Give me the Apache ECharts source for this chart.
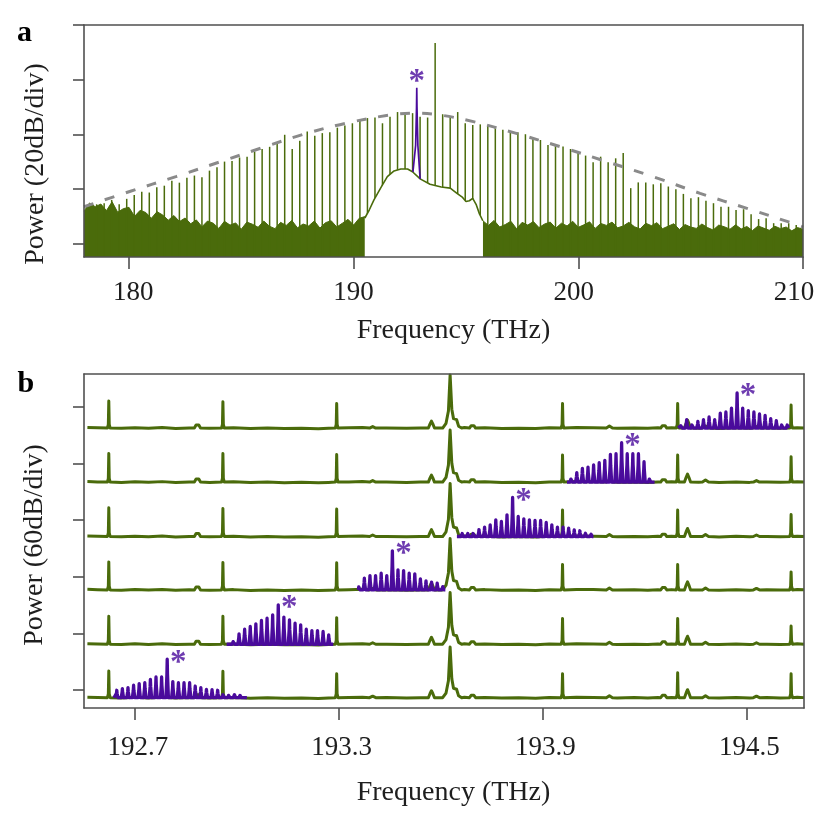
<!DOCTYPE html>
<html><head><meta charset="utf-8">
<script src="https://cdn.jsdelivr.net/npm/echarts@6/dist/echarts.min.js"></script>
<style>html,body{margin:0;padding:0;background:#fff}#c{width:830px;height:830px}</style>
</head><body><div id="c"></div>
<script>
// ---------- Panel a data (frequency THz, power dB) ----------
const aTicks = [180, 190, 200, 210];
const aYTicks = [0, 20, 40, 60, 80];
const aCombFreq = [178.227, 178.562, 178.897, 179.232, 179.566,
  179.901, 180.236, 180.571, 180.906, 181.240, 181.575, 181.910, 182.245, 182.580, 182.914,
  183.249, 183.584, 183.919, 184.254, 184.588, 184.923, 185.258, 185.593, 185.928,
  186.262, 186.597, 186.932, 187.267, 187.602, 187.936, 188.271, 188.606, 188.941, 189.276,
  189.610, 189.945, 190.280, 190.615, 190.950, 191.284, 191.619, 191.954, 192.289, 192.624,
  192.958, 193.293,
  193.628,
  193.963, 194.298, 194.632, 194.967, 195.302, 195.637, 195.972, 196.306, 196.641, 196.976,
  197.311, 197.646, 197.980, 198.315, 198.650, 198.985, 199.320, 199.654, 199.989, 200.324,
  200.659, 200.994, 201.328, 201.663, 201.998,
  202.333, 202.668, 203.002, 203.337, 203.672, 204.007, 204.342, 204.676, 205.011, 205.346,
  205.681, 206.016, 206.350, 206.685, 207.020, 207.355, 207.690, 208.024, 208.359, 208.694,
  209.029, 209.364, 209.698];
const aCombPower = [14.0, 14.5, 14.9, 16.1, 14.5,
  16.5, 17.9, 19.1, 18.8, 20.7, 21.3, 23.1, 22.4, 24.2, 25.0,
  24.4, 26.8, 28.0, 30.1, 30.3, 31.6, 31.9, 33.7, 34.7,
  35.5, 36.8, 39.9, 34.7, 37.7, 41.1, 39.5, 40.5, 40.8, 42.5,
  43.3, 44.1, 45.0, 46.0, 46.2, 44.1, 46.5, 48.2, 47.2, 47.8,
  46.5, 46.2,
  73.4,
  47.4, 46.5, 48.2, 44.1, 43.5, 43.7, 43.5, 42.9, 41.7, 41.1,
  40.8, 40.1, 38.6, 38.0, 36.2, 36.4, 35.6, 34.7, 33.7, 32.3,
  29.9, 31.9, 29.9, 31.3, 33.2,
  20.4, 22.5, 22.5, 21.8, 22.2, 21.0, 20.0, 18.3, 16.7, 17.1,
  15.8, 14.9, 13.6, 13.6, 12.4, 12.7, 10.9, 9.1, 9.4, 7.6,
  7.6, 7.6, 6.9];
const aNoiseLeftFreq = [178.00, 178.25, 178.50, 178.75, 179.00, 179.25, 179.50, 179.75, 180.00, 180.25,
  180.50, 180.75, 181.00, 181.25, 181.50, 181.75, 182.00, 182.25, 182.50, 182.75,
  183.00, 183.25, 183.50, 183.75, 184.00, 184.25, 184.50, 184.75, 185.00, 185.25,
  185.50, 185.75, 186.00, 186.25, 186.50, 186.75, 187.00, 187.25, 187.50, 187.75,
  188.00, 188.25, 188.50, 188.75, 189.00, 189.25, 189.50, 189.75, 190.00, 190.25, 190.50];
const aNoiseLeftPower = [12.0, 15.0, 13.6, 14.6, 12.2, 15.4, 11.6, 12.9, 13.4, 10.1,
  12.3, 11.5, 9.4, 11.8, 10.6, 8.7, 10.4, 8.2, 9.5, 7.4,
  8.8, 6.3, 8.4, 7.6, 5.7, 8.3, 6.9, 7.7, 5.4, 8.0,
  7.2, 6.1, 8.4, 6.5, 5.6, 7.9, 6.8, 8.6, 5.9, 7.3,
  6.6, 8.4, 5.8, 7.8, 8.5, 6.2, 7.6, 9.0, 6.9, 9.4, 10.0];
const aNoiseRightFreq = [195.75, 196.00, 196.25, 196.50, 196.75, 197.00, 197.25, 197.50, 197.75, 198.00,
  198.25, 198.50, 198.75, 199.00, 199.25, 199.50, 199.75, 200.00, 200.25, 200.50,
  200.75, 201.00, 201.25, 201.50, 201.75, 202.00, 202.25, 202.50, 202.75, 203.00,
  203.25, 203.50, 203.75, 204.00, 204.25, 204.50, 204.75, 205.00, 205.25, 205.50,
  205.75, 206.00, 206.25, 206.50, 206.75, 207.00, 207.25, 207.50, 207.75, 208.00,
  208.25, 208.50, 208.75, 209.00, 209.25, 209.50, 209.75, 210.00];
const aNoiseRightPower = [8.5, 6.8, 8.6, 6.2, 7.1, 8.3, 5.6, 7.9, 6.9, 8.2,
  6.0, 7.3, 8.0, 5.8, 7.6, 6.6, 8.3, 6.1, 7.0, 8.1,
  5.7, 7.5, 6.8, 8.0, 5.9, 6.6, 7.9, 6.3, 5.5, 7.6,
  6.7, 7.8, 5.6, 6.5, 7.4, 5.3, 7.1, 6.2, 5.7, 7.3,
  6.0, 5.1, 6.9, 6.3, 5.4, 7.0, 5.5, 6.4, 4.9, 6.6,
  5.8, 5.0, 6.5, 5.6, 6.2, 4.8, 6.0, 5.4];
const aHumpFreq = [190.50, 190.70, 190.90, 191.20, 191.50, 191.80, 192.10, 192.40, 192.62, 192.96,
  193.40, 193.90, 194.30, 194.60, 194.85, 195.00, 195.15, 195.30, 195.45, 195.60, 195.75];
const aHumpPower = [9.5, 12.5, 16.0, 20.4, 24.6, 26.7, 27.4, 27.4, 26.4, 23.8,
  21.8, 20.8, 20.4, 18.5, 17.0, 15.5, 15.8, 16.7, 14.5, 11.0, 8.5];
const aAuxFreq = [192.64, 192.76, 192.80, 192.81, 192.82, 192.86, 192.96];
const aAuxPower = [26.3, 36.0, 50.0, 57.1, 50.0, 36.0, 23.8];
const aEnvFreq = [178.0, 180.0, 182.09, 184.09, 185.87, 187.78, 189.64, 191.69, 192.76, 193.78,
  195.33, 197.2, 199.33, 201.33, 203.33, 205.42, 207.47, 209.64, 210.0];
const aEnvPower = [13.6, 19.1, 24.6, 30.1, 35.0, 40.1, 44.1, 47.2, 47.8, 47.2,
  44.7, 40.5, 35.2, 29.9, 24.6, 18.5, 13.1, 7.3, 6.2];

// ---------- Panel b data (frequency THz, power dB, 60 dB/div) ----------
const bTicks = [192.7, 193.3, 193.9, 194.5];
const bYTicks = [0, 60, 120, 180, 240, 300];
const bTraceOffset = [-8.2, 48.5, 106.1, 162.7, 220.4, 277.7];
const bRefFreq = [192.623, 192.959, 193.294, 193.959, 194.298, 194.632];
const bRefPower = [
  [28.4, 28.0, 25.5, 25.5, 26.5, 25.5],
  [29.7, 29.7, 28.2, 27.2, 27.2, 19.4],
  [29.7, 29.0, 28.7, 26.9, 26.9, 19.1],
  [30.5, 29.7, 29.1, 28.0, 28.0, 23.4],
  [30.4, 30.4, 29.3, 28.7, 28.7, 26.9],
  [28.7, 27.9, 26.1, 26.1, 26.1, 24.4]];
const bPumpPower = [53.8, 54.8, 54.5, 56.3, 55.2, 56.3];
const bPumpFreq = 193.628;
const bPumpWingFreq = [193.606, 193.616, 193.623, 193.633, 193.638, 193.643, 193.647, 193.653, 193.662];
const bPumpWingPower = [0, 5, 18, 20, 10, 8.5, 9, 2, 0];
const bBumpFreq = [192.884, 193.40, 193.573, 193.694, 194.097, 194.257, 194.327, 194.38, 194.53];
const bBumpPower = [5.3, 1.6, 7.4, 4.2, 2.1, 4.2, 8.5, 2.1, 1.6];
const bRippleFreq = [192.56, 192.59, 192.66, 192.70, 192.74, 192.78, 192.82, 192.86, 192.92, 192.99,
  193.04, 193.09, 193.14, 193.19, 193.24, 193.27, 193.33, 193.37, 193.44, 193.50,
  193.54, 193.67, 193.73, 193.78, 193.83, 193.88, 193.92, 194.00, 194.05, 194.12,
  194.17, 194.21, 194.24, 194.28, 194.36, 194.42, 194.47, 194.51, 194.56, 194.60, 194.65, 194.67];
const bRipplePower = [0.6, 0.2, -0.3, 0.4, -0.2, 0.5, -0.4, 0.1, -0.3, 0.3,
  -0.5, 0.0, -0.6, -0.2, -0.7, -0.3, 0.2, 0.6, 0.1, -0.3,
  0.0, 0.5, 0.3, -0.4, -0.1, -0.6, 0.2, 0.5, 0.3, -0.2,
  0.1, -0.3, 0.2, 0.3, -0.1, -0.4, 0.2, -0.3, 0.1, -0.2, 0.4, 0.1];
const bCombStart = [192.638, 192.970, 193.358, 193.648, 193.972, 194.300];
const bCombEnd = [193.030, 193.284, 193.614, 194.050, 194.230, 194.627];
const bCombFreq0 = [192.6465, 192.663, 192.6795, 192.696, 192.7125, 192.729, 192.7455, 192.762, 192.7785, 192.795, 192.8115, 192.828, 192.8445, 192.861, 192.8775, 192.894, 192.9105, 192.927, 192.9435, 192.96, 192.9765, 192.993, 193.0095, 193.026];
const bCombPower0 = [7.9, 9.6, 10.6, 13.2, 14.9, 15.9, 19.5, 22.0, 22.0, 40.8, 17.0, 15.9, 15.9, 15.9, 12.4, 10.6, 8.9, 8.5, 7.9, 5.3, 4.2, 3.2, 2.5, 1.8];
const bCombFreq1 = [192.99, 193.0065, 193.023, 193.0395, 193.056, 193.0725, 193.089, 193.1055, 193.122, 193.1385, 193.155, 193.1715, 193.188, 193.2045, 193.221, 193.2375, 193.254, 193.2705];
const bCombPower1 = [4.6, 10.9, 15.9, 18.8, 21.6, 25.2, 27.6, 31.1, 41.7, 28.7, 25.8, 22.3, 20.5, 15.9, 14.5, 14.5, 13.5, 9.9];
const bCombFreq2 = [193.359, 193.3755, 193.392, 193.4085, 193.425, 193.4415, 193.458, 193.4745, 193.491, 193.5075, 193.524, 193.5405, 193.557, 193.5735, 193.59, 193.6065];
const bCombPower2 = [3.2, 12.4, 15.2, 15.2, 17.7, 15.2, 41.4, 21.2, 20.5, 17.7, 17.0, 11.7, 9.6, 8.2, 7.1, 3.5];
const bCombFreq3 = [193.6635, 193.68, 193.6965, 193.713, 193.7295, 193.746, 193.7625, 193.779, 193.7955, 193.812, 193.8285, 193.845, 193.8615, 193.878, 193.8945, 193.911, 193.9275, 193.944, 193.9605, 193.977, 193.9935, 194.01, 194.0265, 194.043];
const bCombPower3 = [3.2, 3.2, 5.3, 7.4, 9.9, 12.4, 17.7, 15.9, 23.0, 41.4, 21.2, 18.8, 17.7, 17.0, 17.0, 14.9, 12.4, 9.9, 9.9, 8.8, 7.1, 6.1, 3.5, 2.4];
const bCombFreq4 = [193.9845, 194.001, 194.0175, 194.034, 194.0505, 194.067, 194.0835, 194.1, 194.1165, 194.133, 194.1495, 194.166, 194.1825, 194.199, 194.2155];
const bCombPower4 = [5.3, 9.9, 14.5, 15.9, 18.1, 20.5, 23.0, 29.4, 30.1, 41.7, 30.1, 30.1, 30.1, 21.6, 5.3];
const bCombFreq5 = [194.308, 194.3245, 194.341, 194.3575, 194.374, 194.3905, 194.407, 194.4235, 194.44, 194.4565, 194.473, 194.4895, 194.506, 194.5225, 194.539, 194.5555, 194.572, 194.5885, 194.605, 194.6215];
const bCombPower5 = [4.2, 8.8, 5.3, 7.1, 8.8, 11.7, 8.8, 15.9, 17.0, 21.2, 37.2, 21.2, 18.4, 17.0, 14.9, 13.5, 9.9, 7.8, 5.3, 5.3];

// ---------- styling ----------
const GREEN = '#4a6b0b', PURPLE = '#4a0b9c', GRAY = '#8a8a8a', AXIS = '#505050', TXT = '#1e1e1e';
const FONT = "'Liberation Serif','Times New Roman',serif";
const A_MIN = -4.75, A_MAX = 80, B_MIN = -19.1, B_MAX = 335;
const A_XMIN = 178, A_XMAX = 210, B_XMIN = 192.55, B_XMAX = 194.67;
const A_W = 719, B_W = 720;

const zip = (xs, ys) => xs.map((x, i) => [x, ys[i]]);

// ---------- build panel b traces ----------
const bCombFreqs = [bCombFreq0, bCombFreq1, bCombFreq2, bCombFreq3, bCombFreq4, bCombFreq5];
const bCombPowers = [bCombPower0, bCombPower1, bCombPower2, bCombPower3, bCombPower4, bCombPower5];

function greenTrace(k) {
  const off = bTraceOffset[k];
  const pts = [];
  const windows = [];
  bRefFreq.forEach((f, i) => {
    const h = bRefPower[k][i];
    pts.push([f - 0.004, 0], [f - 0.0013, 4], [f, h], [f + 0.0013, 4], [f + 0.004, 0]);
    windows.push([f - 0.007, f + 0.007]);
  });
  bPumpWingFreq.forEach((f, i) => pts.push([f, bPumpWingPower[i]]));
  pts.push([bPumpFreq, bPumpPower[k]]);
  windows.push([bPumpWingFreq[0] - 0.004, bPumpWingFreq[bPumpWingFreq.length - 1] + 0.004]);
  bBumpFreq.forEach((f, i) => {
    const h = bBumpPower[i];
    pts.push([f - 0.009, 0], [f - 0.004, h * 0.6], [f, h], [f + 0.004, h * 0.6], [f + 0.009, 0]);
    windows.push([f - 0.012, f + 0.012]);
  });
  bRippleFreq.forEach((f, i) => {
    if (!windows.some(w => f > w[0] && f < w[1])) pts.push([f, bRipplePower[i]]);
  });
  pts.sort((a, b) => a[0] - b[0]);
  return pts.map(p => [p[0], p[1] + off]);
}
function purpleTrace(k) {
  const off = bTraceOffset[k];
  const pts = [[bCombStart[k], 0]];
  bCombFreqs[k].forEach((f, i) => {
    const h = bCombPowers[k][i];
    pts.push([f - 0.0036, 0], [f - 0.0009, h * 0.6], [f, h], [f + 0.0009, h * 0.6], [f + 0.0036, 0]);
  });
  pts.push([bCombEnd[k], 0]);
  return pts.map(p => [p[0], p[1] + off]);
}
function tallest(k) {
  const hs = bCombPowers[k];
  let m = 0;
  hs.forEach((h, i) => { if (h > hs[m]) m = i; });
  return [bCombFreqs[k][m], hs[m] + bTraceOffset[k]];
}

const series = [];
// panel a
series.push({
  type: 'line', xAxisIndex: 0, yAxisIndex: 0, data: zip(aNoiseLeftFreq, aNoiseLeftPower),
  symbol: 'none', lineStyle: { color: GREEN, width: 1 }, areaStyle: { color: GREEN, opacity: 1, origin: 'start' }, z: 1, silent: true
});
series.push({
  type: 'line', xAxisIndex: 0, yAxisIndex: 0, data: zip(aNoiseRightFreq, aNoiseRightPower),
  symbol: 'none', lineStyle: { color: GREEN, width: 1 }, areaStyle: { color: GREEN, opacity: 1, origin: 'start' }, z: 1, silent: true
});
series.push({
  type: 'custom', xAxisIndex: 0, yAxisIndex: 0, coordinateSystem: 'cartesian2d',
  data: zip(aCombFreq, aCombPower), encode: { x: 0, y: 1 }, z: 2, silent: true,
  renderItem: function (params, api) {
    const top = api.coord([api.value(0), api.value(1)]);
    const bot = api.coord([api.value(0), A_MIN]);
    return { type: 'line', shape: { x1: top[0], y1: top[1], x2: bot[0], y2: bot[1] }, style: { stroke: GREEN, lineWidth: 1.5 } };
  }
});
series.push({
  type: 'line', xAxisIndex: 0, yAxisIndex: 0, data: zip(aHumpFreq, aHumpPower),
  symbol: 'none', lineStyle: { color: GREEN, width: 1.6 }, areaStyle: { color: '#ffffff', opacity: 1, origin: 'start' }, z: 3, silent: true
});
series.push({
  type: 'line', xAxisIndex: 0, yAxisIndex: 0, data: zip(aAuxFreq, aAuxPower),
  symbol: 'none', lineStyle: { color: PURPLE, width: 1.7 }, z: 4, silent: true
});
series.push({
  type: 'line', xAxisIndex: 0, yAxisIndex: 0, data: zip(aEnvFreq, aEnvPower), smooth: 0.35,
  symbol: 'none', lineStyle: { color: GRAY, width: 3, type: [10, 12] }, z: 5, silent: true
});
// star panel a
(function () {
  let m = 0; aAuxPower.forEach((p, i) => { if (p > aAuxPower[m]) m = i; });
  series.push({
    type: 'scatter', xAxisIndex: 0, yAxisIndex: 0, data: [[aAuxFreq[m], aAuxPower[m]]], symbolSize: 0, z: 6, silent: true,
    label: { show: true, formatter: '*', position: 'inside', offset: [0, -5], color: PURPLE, fontSize: 33, fontWeight: 'bold', fontFamily: FONT }
  });
})();
// panel b
for (let k = 0; k < 6; k++) {
  series.push({
    type: 'line', xAxisIndex: 2, yAxisIndex: 2, data: greenTrace(k), symbol: 'none',
    lineStyle: { color: GREEN, width: 3, join: 'round' }, z: 2, silent: true
  });
}
for (let k = 0; k < 6; k++) {
  series.push({
    type: 'line', xAxisIndex: 2, yAxisIndex: 2, data: purpleTrace(k), symbol: 'none',
    lineStyle: { color: PURPLE, width: 3.3, join: 'round' }, z: 3, silent: true
  });
}
series.push({
  type: 'scatter', xAxisIndex: 2, yAxisIndex: 2, data: [0, 1, 2, 3, 4, 5].map(tallest), symbolSize: 0, z: 6, silent: true,
  label: { show: true, formatter: '*', position: 'inside', offset: [11, 4], color: PURPLE, fontSize: 33, fontWeight: 'bold', fontFamily: FONT }
});

// tick labels: the printed labels sit on a slightly different spacing than the ticks
const aLabelPos = v => 49.3 + (v - 180) * 22.02;           // px from grid left
const aTickPos = v => (v - A_XMIN) / (A_XMAX - A_XMIN) * A_W;
const bLabelShift = 3;
function shiftedLabel(ticks, shiftFn, fmt) {
  const rich = {};
  ticks.forEach((t, i) => {
    const s = shiftFn(t);
    rich['t' + i] = { fontSize: 27, fontFamily: FONT, color: TXT, padding: [0, s < 0 ? -2 * s : 0, 0, s > 0 ? 2 * s : 0] };
  });
  return {
    rich: rich,
    formatter: v => {
      let idx = 0, best = Infinity;
      ticks.forEach((t, i) => { if (Math.abs(t - v) < best) { best = Math.abs(t - v); idx = i; } });
      return '{t' + idx + '|' + fmt(ticks[idx]) + '}';
    }
  };
}

const lineStyle = { color: AXIS, width: 1.6 };
function bottomX(grid, min, max, ticks, lbl, margin) {
  return {
    type: 'value', gridIndex: grid, min: min, max: max, position: 'bottom', z: 10,
    axisLine: { show: true, onZero: false, lineStyle: lineStyle },
    axisTick: { show: true, customValues: ticks, length: 12, lineStyle: lineStyle },
    axisLabel: Object.assign({ show: true, customValues: ticks, margin: margin, fontSize: 27, fontFamily: FONT, color: TXT, hideOverlap: false }, lbl),
    splitLine: { show: false }
  };
}
function frameAxis(grid, min, max, pos) {
  return {
    type: 'value', gridIndex: grid, min: min, max: max, position: pos, z: 10,
    axisLine: { show: true, onZero: false, lineStyle: lineStyle },
    axisTick: { show: false }, axisLabel: { show: false }, splitLine: { show: false }
  };
}
function leftY(grid, min, max, ticks) {
  return {
    type: 'value', gridIndex: grid, min: min, max: max, position: 'left', z: 10,
    axisLine: { show: true, onZero: false, lineStyle: lineStyle },
    axisTick: { show: true, customValues: ticks, length: 11, lineStyle: lineStyle },
    axisLabel: { show: false }, splitLine: { show: false }
  };
}

const option = {
  animation: false,
  backgroundColor: '#ffffff',
  grid: [
    { left: 84, top: 25, width: A_W, height: 232 },
    { left: 84, top: 374, width: B_W, height: 334 }
  ],
  xAxis: [
    bottomX(0, A_XMIN, A_XMAX, aTicks, shiftedLabel(aTicks, v => aLabelPos(v) - aTickPos(v), v => String(v)), 22),
    frameAxis(0, A_XMIN, A_XMAX, 'top'),
    bottomX(1, B_XMIN, B_XMAX, bTicks, shiftedLabel(bTicks, v => bLabelShift, v => v.toFixed(1)), 26),
    frameAxis(1, B_XMIN, B_XMAX, 'top')
  ],
  yAxis: [
    leftY(0, A_MIN, A_MAX, aYTicks),
    frameAxis(0, A_MIN, A_MAX, 'right'),
    leftY(1, B_MIN, B_MAX, bYTicks),
    frameAxis(1, B_MIN, B_MAX, 'right')
  ],
  graphic: [
    { type: 'text', x: 24.5, y: 33, style: { text: 'a', fontSize: 30, fontWeight: 'bold', fontFamily: FONT, fill: '#000', align: 'center', verticalAlign: 'middle' } },
    { type: 'text', x: 25.8, y: 384, style: { text: 'b', fontSize: 30, fontWeight: 'bold', fontFamily: FONT, fill: '#000', align: 'center', verticalAlign: 'middle' } },
    { type: 'text', x: 453.5, y: 331, style: { text: 'Frequency (THz)', fontSize: 28, fontFamily: FONT, fill: TXT, align: 'center', verticalAlign: 'middle' } },
    { type: 'text', x: 453.5, y: 793, style: { text: 'Frequency (THz)', fontSize: 28, fontFamily: FONT, fill: TXT, align: 'center', verticalAlign: 'middle' } },
    { type: 'text', x: 36, y: 164, rotation: Math.PI / 2, style: { text: 'Power (20dB/div)', fontSize: 28, fontFamily: FONT, fill: TXT, align: 'center', verticalAlign: 'middle' } },
    { type: 'text', x: 35, y: 545, rotation: Math.PI / 2, style: { text: 'Power (60dB/div)', fontSize: 28, fontFamily: FONT, fill: TXT, align: 'center', verticalAlign: 'middle' } }
  ],
  series: series
};
const chart = echarts.init(document.getElementById('c'), null, { renderer: 'canvas' });
chart.setOption(option);
</script></body></html>
